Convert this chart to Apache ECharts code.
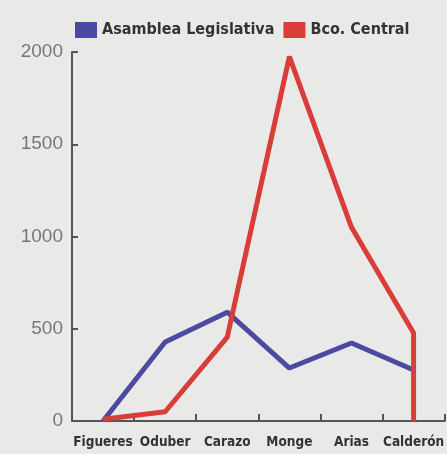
<!DOCTYPE html>
<html><head><meta charset="utf-8">
<script src="https://cdn.jsdelivr.net/npm/echarts@6/dist/echarts.min.js"></script>
<style>html,body{margin:0;padding:0;background:#e9e9e7;}#c{width:447px;height:454px;}</style>
</head><body><div id="c"></div>
<script>
var categories = ['Figueres','Oduber','Carazo','Monge','Arias','Calderón'];
var asamblea = [0, 428, 590, 287, 423, 276];
var bcoCentralIdx = [0, 1, 2, 3, 4, 5, 5];
var bcoCentralVal = [10, 50, 455, 1975, 1050, 477, 0];
var yTicks = [0, 500, 1000, 1500, 2000];

var chart = echarts.init(document.getElementById('c'));
chart.setOption({
  backgroundColor: '#e9e9e7',
  animation: false,
  legend: {
    top: 17, left: 70, itemGap: 9,
    itemWidth: 22, itemHeight: 16,
    icon: 'rect',
    textStyle: {fontFamily: 'DejaVu Sans Condensed', fontWeight: 'bold', fontSize: 16, color: '#333'},
    data: ['Asamblea Legislativa', 'Bco. Central']
  },
  grid: {left: 72, right: 0, top: 52, bottom: 33},
  xAxis: {
    type: 'category', data: categories, boundaryGap: true,
    axisLine: {show: true, lineStyle: {color: '#555', width: 2}},
    axisTick: {show: true, inside: true, length: 7, interval: 0, lineStyle: {color: '#555', width: 2}},
    axisLabel: {interval: 0, fontFamily: 'DejaVu Sans Condensed', fontWeight: 'bold', fontSize: 13.5, color: '#333', margin: 14}
  },
  yAxis: {
    type: 'value', min: yTicks[0], max: yTicks[yTicks.length-1], interval: 500,
    splitLine: {show: false},
    axisLine: {show: true, lineStyle: {color: '#555', width: 2}},
    axisTick: {show: true, inside: true, length: 6, lineStyle: {color: '#555', width: 2}},
    axisLabel: {fontFamily: 'Liberation Sans', fontSize: 19, color: '#777', margin: 9,
                formatter: function(v){ return String(v); }}
  },
  series: [
    {name: 'Asamblea Legislativa', type: 'line', data: asamblea, symbol: 'none',
     color: '#4b4aa0', lineStyle: {width: 5, color: '#4b4aa0'}},
    {name: 'Bco. Central', type: 'line', symbol: 'none',
     data: bcoCentralIdx.map(function(x, i){ return [x, bcoCentralVal[i]]; }),
     color: '#d93d3a', lineStyle: {width: 5, color: '#d93d3a'}}
  ]
});
</script></body></html>
